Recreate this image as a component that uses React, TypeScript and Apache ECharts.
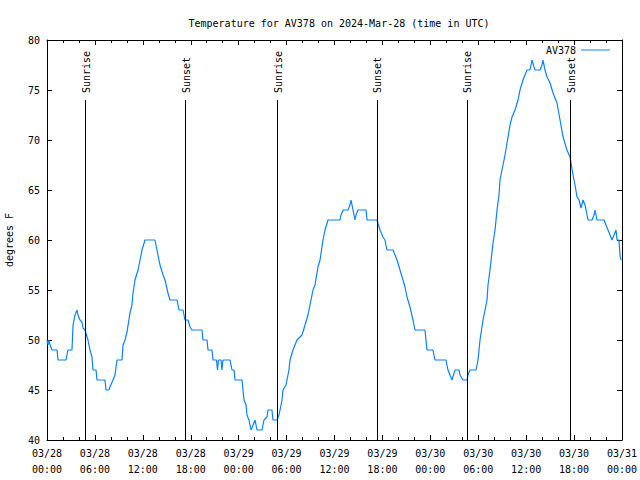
import React, { useEffect, useRef } from "react";
import * as echarts from "echarts";

// Hours since 2024-03-28 00:00 UTC
const hours = [
  0, 0.13, 0.25, 0.38, 0.63, 1.25, 1.38, 2.38, 2.5, 2.63, 3.13, 3.26, 3.51, 3.76, 3.88, 4.13, 4.38, 4.51, 4.76,
  5.13, 5.38, 5.63, 5.76, 6.14, 6.26, 7.26, 7.39, 7.76, 7.89, 8.26, 8.51, 8.77, 9.39, 9.52, 9.77, 10.02, 10.39,
  10.64, 10.77, 11.02, 11.4, 11.65, 11.9, 12.27, 13.52, 13.77, 14.15, 14.53, 14.78, 15.15, 15.4, 16.28, 16.53,
  17.03, 17.28, 17.66, 17.91, 18.16, 19.41, 19.53, 20.04, 20.16, 20.66, 20.79, 21.22, 21.35, 21.47, 21.79, 21.91,
  22.04, 22.92, 23.04, 23.17, 23.42, 23.54, 24.42, 24.54, 24.67, 24.92, 25.04, 25.29, 25.42, 25.55, 25.8,
  26.05, 26.17, 26.3, 26.92, 27.17, 27.55, 27.67, 28.17, 28.3, 28.8, 29.05, 29.18, 29.43, 29.55, 29.93, 30.05,
  30.3, 30.43, 30.8, 31.3, 31.93, 32.31, 32.68, 32.93, 33.31, 33.56, 33.93, 34.19, 34.56, 34.81, 35.19, 36.69,
  36.81, 37.07, 37.69, 37.94, 38.07, 38.32, 38.57, 38.69, 38.94, 39.95, 40.07, 41.32, 41.7, 42.07, 42.32, 42.57,
  43.33, 43.58, 43.83, 44.2, 44.58, 44.83, 45.08, 45.45, 45.83, 46.08, 47.33, 47.58, 48.33, 48.58, 49.96, 50.08,
  50.21, 50.71, 51.09, 51.59, 51.72, 52.09, 52.59, 52.72, 52.97, 53.72, 53.97, 54.22, 54.6, 54.85, 55.1, 55.22,
  55.47, 55.85, 56.1, 56.35, 56.6, 56.72, 56.97, 57.23, 57.35, 57.73, 57.98, 58.23, 58.6, 58.98, 59.23, 59.6,
  60.11, 60.48, 60.73, 60.98, 61.11, 61.73, 61.99, 62.11, 62.36, 62.61, 62.99, 63.36, 63.86, 64.24, 64.62, 65.11,
  65.49, 65.87, 66.12, 66.37, 66.62, 66.87, 67.12, 67.37, 67.75, 68.25, 68.5, 68.62, 68.87, 69.75, 70, 70.25,
  70.5, 70.75, 71, 71.25, 71.38, 71.62, 71.75, 71.87,
];

const temps = [
  50, 49.5, 50, 49.5, 49, 49, 48, 48, 48.5, 49, 49, 51.5, 52.5, 53, 52.5, 52, 51.8, 51.2, 51,
  50, 49, 48.3, 47, 47, 46, 46, 45, 45, 45.3, 46, 46.5, 48, 48, 49.5, 50, 50.8, 52.7,
  53.5, 54.7, 56, 57, 58, 59, 60, 60, 59, 57.5, 56.5, 56, 54.7, 54, 54, 53,
  53, 52, 52, 51.3, 51, 51, 50, 50, 49, 49, 48, 48, 47, 48, 48, 47,
  48, 48, 47.5, 47, 47, 46, 46, 45, 44, 43.5, 42.5, 42, 41.5, 41, 41.5,
  42, 41.5, 41, 41, 42, 42.3, 43, 43, 42, 42, 42.5, 43, 44, 45, 45.5, 46,
  47, 48, 49, 50, 50.5, 51.5, 52.5, 53.5, 55, 55.5, 57.3, 58, 60, 61, 62, 62,
  62.5, 63, 63, 63.5, 64, 63, 62, 62.5, 63, 63, 62, 62, 61, 60.3, 60, 59,
  59, 58.5, 58, 57, 56, 55.3, 54.3, 53.3, 52, 51, 51, 49, 49, 48, 48, 47.5,
  47, 46, 47, 47, 46.5, 46, 46, 46.5, 47, 47, 48, 50, 52, 53, 54, 55.5,
  57, 59.7, 61, 63, 64.5, 66, 67, 68, 68.5, 70.3, 71.5, 72.3, 73, 74, 75, 76,
  77, 77, 78, 77.3, 77, 77, 77.5, 78, 77, 76.3, 75.7, 74.7, 73.7, 72, 70.3, 69,
  68.3, 66.5, 65.5, 64.3, 64, 63.2, 64, 63.5, 62, 62, 62.5, 63, 62, 62, 61.5, 61,
  60.5, 60, 60.5, 61, 60, 60, 58.5, 58,
];

const eventNames = ["Sunrise", "Sunset", "Sunrise", "Sunset", "Sunrise", "Sunset"];
const eventHours = [4.76, 17.28, 28.8, 41.32, 52.59, 65.49];
const eventLineTop = 74;

const FONT = "DejaVu Sans Mono";

function xLabel(v: number): string {
  const day = 28 + Math.floor(v / 24);
  const hh = Math.round(v % 24);
  return "03/" + day + "\n" + String(hh).padStart(2, "0") + ":00";
}

export default function App() {
  const ref = useRef<HTMLDivElement>(null);
  useEffect(() => {
    if (!ref.current) return;
    const chart = echarts.init(ref.current, null, { renderer: "svg" });
    const axisCommon = {
      type: "value" as const,
      min: 0,
      max: 72,
      interval: 6,
      axisLine: { show: true, onZero: false, lineStyle: { color: "#000", width: 1 } },
      axisTick: { show: true, inside: true, length: 5, lineStyle: { color: "#000" } },
      minorTick: { show: true, splitNumber: 3, length: 3, lineStyle: { color: "#000" } },
      splitLine: { show: false },
    };
    const yCommon = {
      type: "value" as const,
      min: 40,
      max: 80,
      interval: 5,
      axisLine: { show: true, onZero: false, lineStyle: { color: "#000", width: 1 } },
      axisTick: { show: true, inside: true, length: 5, lineStyle: { color: "#000" } },
      splitLine: { show: false },
    };
    chart.setOption({
      animation: false,
      backgroundColor: "#fff",
      textStyle: { fontFamily: FONT },
      title: {
        text: "Temperature for AV378 on 2024-Mar-28 (time in UTC)",
        left: 334,
        top: 13,
        textAlign: "center",
        textStyle: { fontFamily: FONT, fontSize: 10, fontWeight: "normal", color: "#000" },
      },
      legend: {
        right: 30,
        top: 45,
        padding: 0,
        align: "right",
        icon: "rect",
        itemWidth: 29,
        itemHeight: 1,
        textStyle: { fontFamily: FONT, fontSize: 10, color: "#000" },
        data: [{ name: "AV378", itemStyle: { color: "#0a80ff" } }],
      },
      grid: {
        left: 47,
        right: 18,
        top: 40,
        bottom: 40,
        containLabel: false,
        outerBoundsMode: "none",
      },
      xAxis: [
        {
          ...axisCommon,
          position: "bottom",
          axisLabel: {
            show: true,
            formatter: xLabel,
            fontFamily: FONT,
            fontSize: 10,
            lineHeight: 16,
            color: "#000",
            margin: 5,
          },
        },
        { ...axisCommon, position: "top", axisLabel: { show: false } },
      ],
      yAxis: [
        {
          ...yCommon,
          position: "left",
          name: "degrees F",
          nameLocation: "middle",
          nameRotate: 90,
          nameGap: 33,
          nameTextStyle: { fontFamily: FONT, fontSize: 10, color: "#000" },
          axisLabel: { fontFamily: FONT, fontSize: 10, color: "#000", margin: 7 },
        },
        { ...yCommon, position: "right", axisLabel: { show: false } },
      ],
      series: [
        {
          name: "AV378",
          type: "line",
          xAxisIndex: 0,
          yAxisIndex: 0,
          symbol: "none",
          lineStyle: { color: "#0a80ff", width: 1.2 },
          itemStyle: { color: "#0a80ff" },
          data: hours.map((h, i) => [h, temps[i]]),
          markLine: {
            silent: true,
            symbol: "none",
            animation: false,
            label: { show: false },
            lineStyle: { color: "#000", width: 1, type: "solid" },
            data: eventHours.map((h) => [{ coord: [h, 40] }, { coord: [h, eventLineTop] }]),
          },
        },
      ],
    });
    const texts = eventHours.map((h, i) => {
      const p = chart.convertToPixel({ xAxisIndex: 0, yAxisIndex: 0 }, [h, eventLineTop]) as number[];
      return {
        type: "text",
        x: p[0] + 1,
        y: p[1] - 7,
        rotation: Math.PI / 2,
        style: {
          text: eventNames[i],
          fontFamily: FONT,
          fontSize: 10,
          fill: "#000",
          align: "left",
          verticalAlign: "middle",
        },
      };
    });
    chart.setOption({ graphic: texts });
    return () => chart.dispose();
  }, []);
  return (
    <div
      ref={ref}
      style={{ position: "fixed", left: 0, top: 0, width: 640, height: 480 }}
    />
  );
}
